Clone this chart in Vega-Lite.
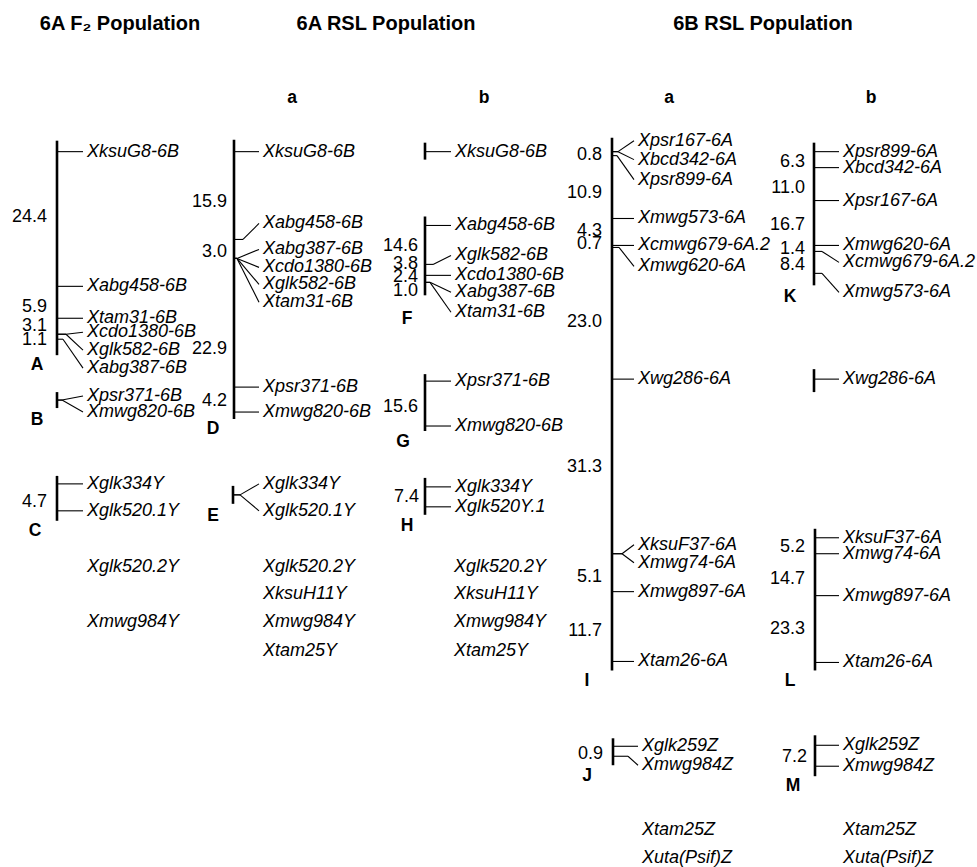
{
  "$schema": "https://vega.github.io/schema/vega-lite/v6.json",
  "width": 977,
  "height": 867,
  "autosize": {"type": "fit", "contains": "padding"},
  "padding": 0,
  "background": "white",
  "config": {"view": {"stroke": null}},
  "datasets": {
    "chrom": [
      {"g": "A", "x": 57, "y1": 141, "y2": 356},
      {"g": "B", "x": 57, "y1": 393, "y2": 409},
      {"g": "C", "x": 57, "y1": 477, "y2": 522},
      {"g": "D", "x": 234, "y1": 140, "y2": 420},
      {"g": "E", "x": 233, "y1": 487, "y2": 505},
      {"g": "F0", "x": 425, "y1": 143, "y2": 160},
      {"g": "F", "x": 425, "y1": 217, "y2": 296},
      {"g": "G", "x": 425, "y1": 375, "y2": 432},
      {"g": "H", "x": 425, "y1": 479, "y2": 516},
      {"g": "I", "x": 612, "y1": 138, "y2": 672},
      {"g": "J", "x": 613, "y1": 740, "y2": 767},
      {"g": "K", "x": 814, "y1": 143, "y2": 286},
      {"g": "K2", "x": 814, "y1": 370, "y2": 393},
      {"g": "L", "x": 815, "y1": 530, "y2": 672},
      {"g": "M", "x": 815, "y1": 737, "y2": 778}
    ],
    "markers": [
      {"x0": 57, "yb": 152, "xb": 83, "xe": 83, "ye": 152, "lab": "XksuG8-6B"},
      {"x0": 57, "yb": 287, "xb": 83, "xe": 83, "ye": 287, "lab": "Xabg458-6B"},
      {"x0": 57, "yb": 319, "xb": 83, "xe": 83, "ye": 319, "lab": "Xtam31-6B"},
      {"x0": 57, "yb": 335, "xb": 66, "xe": 83, "ye": 333, "lab": "Xcdo1380-6B"},
      {"x0": 57, "yb": 335, "xb": 66, "xe": 83, "ye": 351, "lab": "Xglk582-6B"},
      {"x0": 57, "yb": 340, "xb": 63, "xe": 83, "ye": 369, "lab": "Xabg387-6B"},
      {"x0": 57, "yb": 401, "xb": 62, "xe": 83, "ye": 397, "lab": "Xpsr371-6B"},
      {"x0": 57, "yb": 401, "xb": 62, "xe": 83, "ye": 413, "lab": "Xmwg820-6B"},
      {"x0": 57, "yb": 485, "xb": 83, "xe": 83, "ye": 485, "lab": "Xglk334Y"},
      {"x0": 57, "yb": 512, "xb": 83, "xe": 83, "ye": 512, "lab": "Xglk520.1Y"},
      {"x0": 234, "yb": 152, "xb": 259, "xe": 259, "ye": 152, "lab": "XksuG8-6B"},
      {"x0": 234, "yb": 240, "xb": 243, "xe": 259, "ye": 224, "lab": "Xabg458-6B"},
      {"x0": 234, "yb": 259, "xb": 237, "xe": 259, "ye": 250, "lab": "Xabg387-6B"},
      {"x0": 234, "yb": 259, "xb": 237, "xe": 259, "ye": 268, "lab": "Xcdo1380-6B"},
      {"x0": 234, "yb": 259, "xb": 237, "xe": 259, "ye": 285, "lab": "Xglk582-6B"},
      {"x0": 234, "yb": 259, "xb": 237, "xe": 259, "ye": 303, "lab": "Xtam31-6B"},
      {"x0": 234, "yb": 388, "xb": 259, "xe": 259, "ye": 388, "lab": "Xpsr371-6B"},
      {"x0": 234, "yb": 413, "xb": 259, "xe": 259, "ye": 413, "lab": "Xmwg820-6B"},
      {"x0": 233, "yb": 496, "xb": 240, "xe": 259, "ye": 485, "lab": "Xglk334Y"},
      {"x0": 233, "yb": 496, "xb": 240, "xe": 259, "ye": 512, "lab": "Xglk520.1Y"},
      {"x0": 425, "yb": 152, "xb": 451, "xe": 451, "ye": 152, "lab": "XksuG8-6B"},
      {"x0": 425, "yb": 226, "xb": 451, "xe": 451, "ye": 226, "lab": "Xabg458-6B"},
      {"x0": 425, "yb": 265, "xb": 433, "xe": 451, "ye": 256, "lab": "Xglk582-6B"},
      {"x0": 425, "yb": 276, "xb": 451, "xe": 451, "ye": 276, "lab": "Xcdo1380-6B"},
      {"x0": 425, "yb": 283, "xb": 430, "xe": 451, "ye": 293, "lab": "Xabg387-6B"},
      {"x0": 425, "yb": 283, "xb": 430, "xe": 451, "ye": 313, "lab": "Xtam31-6B"},
      {"x0": 425, "yb": 382, "xb": 451, "xe": 451, "ye": 382, "lab": "Xpsr371-6B"},
      {"x0": 425, "yb": 427, "xb": 451, "xe": 451, "ye": 427, "lab": "Xmwg820-6B"},
      {"x0": 425, "yb": 488, "xb": 451, "xe": 451, "ye": 488, "lab": "Xglk334Y"},
      {"x0": 425, "yb": 508, "xb": 451, "xe": 451, "ye": 508, "lab": "Xglk520Y.1"},
      {"x0": 612, "yb": 152, "xb": 618, "xe": 634, "ye": 141, "lab": "Xpsr167-6A"},
      {"x0": 612, "yb": 152, "xb": 618, "xe": 634, "ye": 160, "lab": "Xbcd342-6A"},
      {"x0": 612, "yb": 156, "xb": 617, "xe": 634, "ye": 180, "lab": "Xpsr899-6A"},
      {"x0": 612, "yb": 219, "xb": 634, "xe": 634, "ye": 219, "lab": "Xmwg573-6A"},
      {"x0": 612, "yb": 246, "xb": 634, "xe": 634, "ye": 246, "lab": "Xcmwg679-6A.2"},
      {"x0": 612, "yb": 248, "xb": 619, "xe": 634, "ye": 267, "lab": "Xmwg620-6A"},
      {"x0": 612, "yb": 380, "xb": 634, "xe": 634, "ye": 380, "lab": "Xwg286-6A"},
      {"x0": 612, "yb": 555, "xb": 622, "xe": 634, "ye": 546, "lab": "XksuF37-6A"},
      {"x0": 612, "yb": 555, "xb": 622, "xe": 634, "ye": 564, "lab": "Xmwg74-6A"},
      {"x0": 612, "yb": 593, "xb": 634, "xe": 634, "ye": 593, "lab": "Xmwg897-6A"},
      {"x0": 612, "yb": 663, "xb": 634, "xe": 634, "ye": 663, "lab": "Xtam26-6A"},
      {"x0": 613, "yb": 748, "xb": 638, "xe": 638, "ye": 748, "lab": "Xglk259Z"},
      {"x0": 613, "yb": 758, "xb": 628, "xe": 638, "ye": 767, "lab": "Xmwg984Z"},
      {"x0": 814, "yb": 152, "xb": 839, "xe": 839, "ye": 152, "lab": "Xpsr899-6A"},
      {"x0": 814, "yb": 168, "xb": 839, "xe": 839, "ye": 168, "lab": "Xbcd342-6A"},
      {"x0": 814, "yb": 201, "xb": 839, "xe": 839, "ye": 201, "lab": "Xpsr167-6A"},
      {"x0": 814, "yb": 246, "xb": 839, "xe": 839, "ye": 246, "lab": "Xmwg620-6A"},
      {"x0": 814, "yb": 252, "xb": 822, "xe": 839, "ye": 263, "lab": "Xcmwg679-6A.2"},
      {"x0": 814, "yb": 274, "xb": 822, "xe": 839, "ye": 293, "lab": "Xmwg573-6A"},
      {"x0": 814, "yb": 380, "xb": 839, "xe": 839, "ye": 380, "lab": "Xwg286-6A"},
      {"x0": 815, "yb": 539, "xb": 839, "xe": 839, "ye": 539, "lab": "XksuF37-6A"},
      {"x0": 815, "yb": 555, "xb": 839, "xe": 839, "ye": 555, "lab": "Xmwg74-6A"},
      {"x0": 815, "yb": 597, "xb": 839, "xe": 839, "ye": 597, "lab": "Xmwg897-6A"},
      {"x0": 815, "yb": 664, "xb": 839, "xe": 839, "ye": 664, "lab": "Xtam26-6A"},
      {"x0": 815, "yb": 747, "xb": 839, "xe": 839, "ye": 747, "lab": "Xglk259Z"},
      {"x0": 815, "yb": 768, "xb": 839, "xe": 839, "ye": 768, "lab": "Xmwg984Z"}
    ],
    "free": [
      {"x": 87, "y": 568, "lab": "Xglk520.2Y"},
      {"x": 87, "y": 623, "lab": "Xmwg984Y"},
      {"x": 263, "y": 568, "lab": "Xglk520.2Y"},
      {"x": 263, "y": 595, "lab": "XksuH11Y"},
      {"x": 263, "y": 623, "lab": "Xmwg984Y"},
      {"x": 263, "y": 653, "lab": "Xtam25Y"},
      {"x": 454, "y": 568, "lab": "Xglk520.2Y"},
      {"x": 454, "y": 595, "lab": "XksuH11Y"},
      {"x": 454, "y": 623, "lab": "Xmwg984Y"},
      {"x": 454, "y": 653, "lab": "Xtam25Y"},
      {"x": 642, "y": 832, "lab": "Xtam25Z"},
      {"x": 642, "y": 860, "lab": "Xuta(Psif)Z"},
      {"x": 843, "y": 832, "lab": "Xtam25Z"},
      {"x": 843, "y": 860, "lab": "Xuta(Psif)Z"}
    ],
    "dist": [
      {"x": 47, "y": 218, "t": "24.4"},
      {"x": 47, "y": 308, "t": "5.9"},
      {"x": 47, "y": 327, "t": "3.1"},
      {"x": 47, "y": 341, "t": "1.1"},
      {"x": 47, "y": 503, "t": "4.7"},
      {"x": 227, "y": 202, "t": "15.9"},
      {"x": 227, "y": 253, "t": "3.0"},
      {"x": 227, "y": 350, "t": "22.9"},
      {"x": 227, "y": 402, "t": "4.2"},
      {"x": 418, "y": 247, "t": "14.6"},
      {"x": 418, "y": 265, "t": "3.8"},
      {"x": 418, "y": 278, "t": "2.4"},
      {"x": 418, "y": 292, "t": "1.0"},
      {"x": 418, "y": 408, "t": "15.6"},
      {"x": 419, "y": 498, "t": "7.4"},
      {"x": 602, "y": 155, "t": "0.8"},
      {"x": 602, "y": 193, "t": "10.9"},
      {"x": 602, "y": 232, "t": "4.3"},
      {"x": 602, "y": 245, "t": "0.7"},
      {"x": 602, "y": 323, "t": "23.0"},
      {"x": 602, "y": 468, "t": "31.3"},
      {"x": 602, "y": 578, "t": "5.1"},
      {"x": 602, "y": 632, "t": "11.7"},
      {"x": 603, "y": 756, "t": "0.9"},
      {"x": 805, "y": 162, "t": "6.3"},
      {"x": 805, "y": 188, "t": "11.0"},
      {"x": 805, "y": 226, "t": "16.7"},
      {"x": 805, "y": 250, "t": "1.4"},
      {"x": 805, "y": 266, "t": "8.4"},
      {"x": 805, "y": 548, "t": "5.2"},
      {"x": 805, "y": 580, "t": "14.7"},
      {"x": 805, "y": 630, "t": "23.3"},
      {"x": 807, "y": 759, "t": "7.2"}
    ],
    "letters": [
      {"x": 37, "y": 366, "t": "A"},
      {"x": 37, "y": 421, "t": "B"},
      {"x": 35, "y": 532, "t": "C"},
      {"x": 213, "y": 430, "t": "D"},
      {"x": 213, "y": 517, "t": "E"},
      {"x": 407, "y": 320, "t": "F"},
      {"x": 403, "y": 443, "t": "G"},
      {"x": 407, "y": 527, "t": "H"},
      {"x": 587, "y": 683, "t": "I"},
      {"x": 587, "y": 778, "t": "J"},
      {"x": 790, "y": 298, "t": "K"},
      {"x": 790, "y": 683, "t": "L"},
      {"x": 793, "y": 788, "t": "M"},
      {"x": 292, "y": 98, "t": "a"},
      {"x": 484, "y": 98, "t": "b"},
      {"x": 669, "y": 98, "t": "a"},
      {"x": 871, "y": 98, "t": "b"}
    ],
    "titles": [
      {"x": 120, "y": 24, "t": "6A F₂ Population"},
      {"x": 386, "y": 24, "t": "6A RSL Population"},
      {"x": 763, "y": 24, "t": "6B RSL Population"}
    ]
  },
  "layer": [
    {
      "data": {"name": "chrom"},
      "mark": {"type": "rule", "color": "black", "strokeWidth": 2.6},
      "encoding": {
        "x": {"field": "x", "type": "quantitative", "scale": {"domain": [0, 977], "nice": false, "zero": false}, "axis": null},
        "y": {"field": "y1", "type": "quantitative", "scale": {"domain": [0, 867], "nice": false, "zero": false, "reverse": true}, "axis": null},
        "y2": {"field": "y2"}
      }
    },
    {
      "data": {"name": "markers"},
      "mark": {"type": "rule", "color": "black", "strokeWidth": 1.1},
      "encoding": {
        "x": {"field": "x0", "type": "quantitative", "axis": null},
        "y": {"field": "yb", "type": "quantitative", "axis": null},
        "x2": {"field": "xb"},
        "y2": {"field": "yb"}
      }
    },
    {
      "data": {"name": "markers"},
      "mark": {"type": "rule", "color": "black", "strokeWidth": 1.1},
      "encoding": {
        "x": {"field": "xb", "type": "quantitative", "axis": null},
        "y": {"field": "yb", "type": "quantitative", "axis": null},
        "x2": {"field": "xe"},
        "y2": {"field": "ye"}
      }
    },
    {
      "data": {"name": "markers"},
      "mark": {"type": "text", "align": "left", "baseline": "middle", "dx": 4, "font": "Liberation Sans", "fontStyle": "italic", "fontSize": 18, "color": "black"},
      "encoding": {
        "x": {"field": "xe", "type": "quantitative", "axis": null},
        "y": {"field": "ye", "type": "quantitative", "axis": null},
        "text": {"field": "lab"}
      }
    },
    {
      "data": {"name": "free"},
      "mark": {"type": "text", "align": "left", "baseline": "middle", "font": "Liberation Sans", "fontStyle": "italic", "fontSize": 18, "color": "black"},
      "encoding": {
        "x": {"field": "x", "type": "quantitative", "axis": null},
        "y": {"field": "y", "type": "quantitative", "axis": null},
        "text": {"field": "lab"}
      }
    },
    {
      "data": {"name": "dist"},
      "mark": {"type": "text", "align": "right", "baseline": "middle", "font": "Liberation Sans", "fontSize": 18, "color": "black"},
      "encoding": {
        "x": {"field": "x", "type": "quantitative", "axis": null},
        "y": {"field": "y", "type": "quantitative", "axis": null},
        "text": {"field": "t"}
      }
    },
    {
      "data": {"name": "letters"},
      "mark": {"type": "text", "align": "center", "baseline": "middle", "font": "Liberation Sans", "fontWeight": "bold", "fontSize": 17.5, "color": "black"},
      "encoding": {
        "x": {"field": "x", "type": "quantitative", "axis": null},
        "y": {"field": "y", "type": "quantitative", "axis": null},
        "text": {"field": "t"}
      }
    },
    {
      "data": {"name": "titles"},
      "mark": {"type": "text", "align": "center", "baseline": "middle", "font": "Liberation Sans", "fontWeight": "bold", "fontSize": 20, "color": "black"},
      "encoding": {
        "x": {"field": "x", "type": "quantitative", "axis": null},
        "y": {"field": "y", "type": "quantitative", "axis": null},
        "text": {"field": "t"}
      }
    }
  ]
}
